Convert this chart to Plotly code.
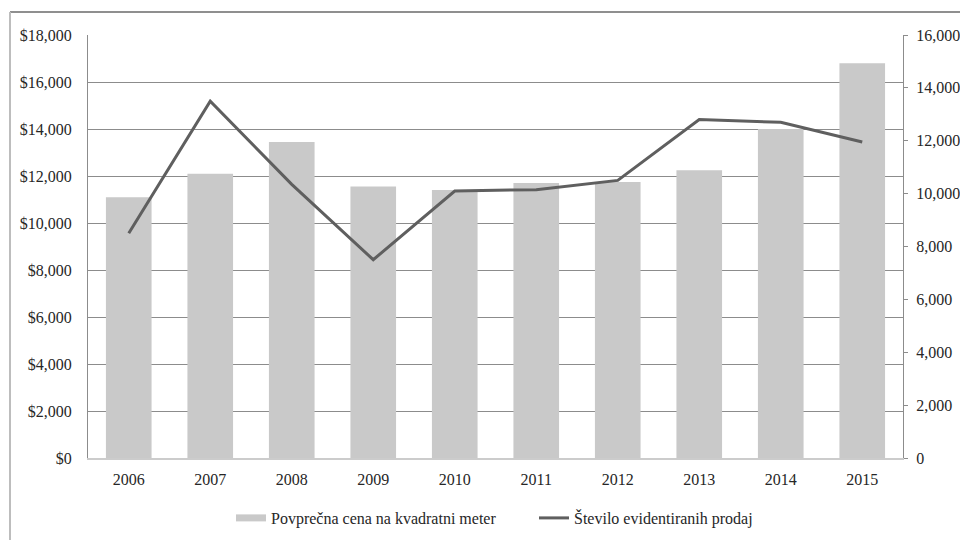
import plotly.graph_objects as go

# Data
years = ["2006", "2007", "2008", "2009", "2010", "2011", "2012", "2013", "2014", "2015"]
avg_price_per_m2 = [11100, 12100, 13450, 11550, 11400, 11700, 11750, 12250, 14000, 16800]
recorded_sales = [8500, 13500, 10350, 7500, 10100, 10150, 10500, 12800, 12700, 11950]

price_name = "Povprečna cena na kvadratni meter"
sales_name = "Število evidentiranih prodaj"

W, H = 960, 540
L, R, T, B = 88, 57, 35, 82
plot_w = W - L - R
plot_h = H - T - B


def px_x(x):
    return (x - L) / plot_w


def px_y(y):
    return (H - B - y) / plot_h


bar_color = "#c9c9c9"
line_color = "#5f5f5f"
axis_gray = "#8c8c8c"
text_color = "#262626"
font_family = "Liberation Serif"
fs = 16

fig = go.Figure()

fig.add_trace(go.Bar(
    x=years, y=avg_price_per_m2, name=price_name,
    marker=dict(color=bar_color, line=dict(width=0)),
    showlegend=False, yaxis="y",
))
# legend swatch for the bars, drawn as a flat band
fig.add_trace(go.Scatter(
    x=[None], y=[None], mode="lines", name=price_name,
    line=dict(color=bar_color, width=7), yaxis="y",
))
fig.add_trace(go.Scatter(
    x=years, y=recorded_sales, name=sales_name, mode="lines",
    line=dict(color=line_color, width=3), yaxis="y2",
))

fig.update_layout(
    width=W, height=H,
    margin=dict(l=L, r=R, t=T, b=B, autoexpand=False),
    paper_bgcolor="white", plot_bgcolor="white",
    font=dict(family=font_family, size=fs, color=text_color),
    bargap=0.44,
    xaxis=dict(
        type="category", showgrid=False, showline=True, automargin=False,
        linecolor="#cccccc", linewidth=2, ticks="", ticklabelstandoff=6,
        tickfont=dict(size=fs),
    ),
    yaxis=dict(
        range=[0, 18000], dtick=2000, tick0=0, tickprefix="$", tickformat=",",
        showgrid=True, gridcolor=axis_gray, gridwidth=1, zeroline=False,
        showline=True, linecolor=axis_gray, linewidth=1, ticks="",
        automargin=False, ticklabelstandoff=12, tickfont=dict(size=fs),
    ),
    yaxis2=dict(
        range=[0, 16000], dtick=2000, tick0=0, tickformat=",",
        overlaying="y", side="right", showgrid=False, zeroline=False,
        showline=True, linecolor=axis_gray, linewidth=1, automargin=False,
        ticks="outside", ticklen=4, tickcolor=axis_gray,
        ticklabelstandoff=5, tickfont=dict(size=fs),
    ),
    legend=dict(
        orientation="h", xref="container", x=231 / W, xanchor="left",
        yref="container", y=1 - 518 / H, yanchor="middle",
        entrywidth=258, entrywidthmode="pixels",
        font=dict(size=fs), itemwidth=30, bgcolor="rgba(0,0,0,0)",
    ),
    shapes=[
        dict(type="line", xref="paper", yref="paper",
             x0=px_x(10), x1=px_x(W), y0=px_y(12), y1=px_y(12),
             line=dict(color="#8f8f8f", width=2)),
        dict(type="line", xref="paper", yref="paper",
             x0=px_x(10), x1=px_x(10), y0=px_y(12), y1=px_y(H),
             line=dict(color="#bdbdbd", width=2)),
    ],
)

fig.write_html("out.html")
